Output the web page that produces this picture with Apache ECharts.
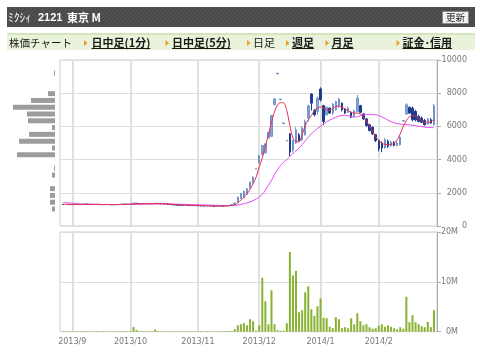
<!DOCTYPE html>
<html><head><meta charset="utf-8">
<script src="https://cdn.jsdelivr.net/npm/echarts@6/dist/echarts.min.js"></script>
<style>html,body{margin:0;padding:0;background:#fff}#c{width:480px;height:359px}</style>
</head><body><div id="c"></div>
<script>
// ---- data ----
const dates = [
"2013/8/28","2013/8/29","2013/8/30",
"2013/9/2","2013/9/3","2013/9/4","2013/9/5","2013/9/6","2013/9/9","2013/9/10","2013/9/11","2013/9/12","2013/9/13","2013/9/17","2013/9/18","2013/9/19","2013/9/20","2013/9/24","2013/9/25","2013/9/26","2013/9/27","2013/9/30",
"2013/10/1","2013/10/2","2013/10/3","2013/10/4","2013/10/7","2013/10/8","2013/10/9","2013/10/10","2013/10/11","2013/10/15","2013/10/16","2013/10/17","2013/10/18","2013/10/21","2013/10/22","2013/10/23","2013/10/24","2013/10/25","2013/10/28","2013/10/29","2013/10/30","2013/10/31",
"2013/11/1","2013/11/5","2013/11/6","2013/11/7","2013/11/8","2013/11/11","2013/11/12","2013/11/13","2013/11/14","2013/11/15","2013/11/18","2013/11/19","2013/11/20","2013/11/21","2013/11/22","2013/11/25","2013/11/26","2013/11/27","2013/11/28","2013/11/29",
"2013/12/2","2013/12/3","2013/12/4","2013/12/5","2013/12/6","2013/12/9","2013/12/10","2013/12/11","2013/12/12","2013/12/13","2013/12/16","2013/12/17","2013/12/18","2013/12/19","2013/12/20","2013/12/24","2013/12/25","2013/12/26","2013/12/27","2013/12/30",
"2014/1/6","2014/1/7","2014/1/8","2014/1/9","2014/1/10","2014/1/14","2014/1/15","2014/1/16","2014/1/17","2014/1/20","2014/1/21","2014/1/22","2014/1/23","2014/1/24","2014/1/27","2014/1/28","2014/1/29","2014/1/30","2014/1/31",
"2014/2/3","2014/2/4","2014/2/5","2014/2/6","2014/2/7","2014/2/10","2014/2/12","2014/2/13","2014/2/14","2014/2/17","2014/2/18","2014/2/19","2014/2/20","2014/2/21","2014/2/24","2014/2/25","2014/2/26","2014/2/27","2014/2/28"
];
// [open, close, low, high]
const ohlc = [
[1300,1290,1270,1320],[1290,1300,1280,1310],[1300,1280,1270,1310],
[1280,1300,1270,1310],[1300,1310,1290,1320],[1310,1290,1280,1320],[1290,1300,1280,1310],[1300,1320,1290,1330],[1320,1300,1290,1330],[1300,1290,1280,1310],[1290,1310,1280,1320],[1310,1300,1290,1320],[1300,1280,1270,1310],[1280,1290,1270,1300],[1290,1300,1280,1310],[1300,1290,1280,1310],[1290,1270,1260,1300],[1270,1290,1260,1300],[1290,1300,1280,1310],[1300,1320,1290,1330],[1320,1310,1300,1330],[1310,1300,1290,1320],
[1300,1330,1290,1340],[1340,1380,1330,1400],[1370,1350,1340,1380],[1350,1340,1330,1360],[1340,1330,1320,1350],[1330,1350,1320,1360],[1350,1340,1330,1360],[1340,1350,1330,1360],[1360,1380,1340,1390],[1370,1350,1340,1380],[1350,1330,1320,1360],[1330,1320,1300,1340],[1320,1300,1290,1330],[1300,1290,1280,1310],[1290,1270,1260,1300],[1270,1260,1240,1280],[1260,1250,1240,1270],[1250,1240,1230,1260],[1240,1250,1230,1260],[1250,1230,1220,1260],[1230,1220,1210,1240],[1220,1230,1210,1240],
[1230,1220,1200,1240],[1220,1210,1200,1230],[1210,1200,1190,1220],[1200,1210,1190,1220],[1210,1200,1190,1220],[1200,1190,1180,1210],[1190,1200,1180,1210],[1200,1210,1190,1220],[1210,1200,1190,1220],[1200,1220,1190,1230],[1220,1240,1210,1250],[1240,1290,1230,1300],[1300,1380,1290,1400],[1420,1740,1400,1770],[1650,1960,1630,1990],[1700,2100,1670,2130],[1900,2250,1870,2270],[2300,2650,2270,2670],[2600,2950,2570,2970],[3430,3470,3430,3470],
[3800,4250,3780,4280],[4300,4850,4280,4880],[4400,4950,4380,4980],[5300,5650,5280,5680],[5400,6650,5380,6690],[7300,7650,7290,7690],[9160,9200,9160,9200],[7600,7640,7600,7640],[6170,6210,6170,6210],[5120,5160,5120,5160],[5550,4450,4200,5600],[4550,5150,4450,5200],[5000,5800,4950,5950],[5500,5150,5050,5600],[5200,5900,5100,6000],[5500,6300,5450,6400],[6500,7250,6300,7300],[7950,7400,6950,8000],[6950,6700,6600,7050],[6900,7700,6700,7800],
[8250,7600,7500,8350],[7250,6300,6100,7300],[6700,7150,6650,7200],[7100,6800,6750,7150],[6800,7350,6700,7400],[7000,7500,6950,7550],[7200,7650,7100,7700],[7400,7000,6900,7450],[7050,6800,6750,7100],[6850,7100,6800,7200],[6850,6550,6500,6900],[6600,6950,6550,7000],[6900,7700,6850,7900],[7250,6850,6800,7300],[6750,6450,6400,6800],[6450,6050,5980,6500],[6100,5750,5700,6150],[5950,5550,5480,6000],[5500,5150,5050,5550],
[5150,4650,4500,5200],[5000,4700,4450,5100],[4700,5200,4650,5300],[5100,4800,4700,5200],[4850,5050,4750,5150],[5050,4850,4800,5100],[4850,5000,4800,5100],[4900,5350,4850,5450],[6320,6360,6320,6360],[6750,7300,6700,7400],[7150,6800,6750,7200],[7100,6400,6300,7200],[6900,6400,6300,7000],[6600,6300,6250,6700],[6500,6250,6200,6600],[6350,6100,6050,6450],[6150,6450,6100,6500],[6400,6200,6150,6500],[6100,7250,6050,7350]
];
// volume, millions of shares
const volume = [
0.12,0.1,0.1,
0.1,0.12,0.08,0.1,0.1,0.12,0.1,0.08,0.1,0.1,0.12,0.1,0.08,0.1,0.1,0.1,0.12,0.1,0.1,
0.15,0.93,0.35,0.12,0.1,0.1,0.1,0.12,0.45,0.15,0.1,0.1,0.08,0.1,0.1,0.12,0.1,0.08,0.1,0.1,0.1,0.08,
0.1,0.1,0.08,0.1,0.1,0.1,0.08,0.1,0.1,0.12,0.15,0.15,0.53,1.3,1.5,1.7,1.3,2.5,2.1,0.2,
1.3,10.8,6.1,1.5,8.3,1.5,0.3,0.2,0.2,1.7,16,11.3,12.2,3.9,4.3,7.9,9.1,4.5,3.2,5.1,
6.7,2.8,2.7,1.0,0.7,2.9,2.5,0.7,0.9,0.7,2.7,1.5,3.7,2.1,1.3,1.5,0.9,0.6,0.7,
1.2,1.5,1.0,1.3,1.0,0.7,0.5,0.9,0.6,7.0,1.9,3.3,1.9,1.5,1.1,0.9,2.0,0.9,4.3
];
const ma5 = [
1310,1305,1300,
1295,1295,1296,1300,1304,1304,1302,1304,1304,1296,1294,1296,1292,1286,1288,1290,1294,1298,1304,
1312,1328,1338,1346,1346,1350,1342,1342,1350,1354,1350,1346,1336,1318,1302,1288,1274,1262,1254,1246,1238,1234,
1230,1222,1214,1214,1208,1202,1200,1202,1200,1204,1214,1235,1275,1390,1550,1740,1940,2200,2550,2950,
3550,4100,4800,5500,6250,6900,7300,7430,7420,6950,6050,5300,5080,5080,5500,6050,6400,6650,6950,7100,
7180,7100,7000,6980,7080,7200,7230,7150,7050,6950,6850,6800,6800,6750,6550,6300,6050,5700,5400,
5150,4980,4920,4900,4920,4980,5200,5550,6000,6350,6580,6650,6600,6480,6350,6250,6230,6300,6420
];
const ma25 = [
1430,1410,1390,
1370,1350,1335,1325,1318,1312,1308,1305,1303,1300,1298,1297,1296,1295,1295,1295,1296,1297,1298,
1300,1304,1307,1310,1312,1315,1318,1320,1323,1325,1326,1326,1325,1323,1320,1316,1312,1308,1303,1298,1292,1287,
1281,1275,1268,1262,1256,1250,1245,1240,1236,1234,1234,1236,1245,1265,1300,1340,1390,1450,1530,1620,
1750,1900,2150,2450,2750,3100,3400,3650,3850,4000,4200,4380,4520,4700,4900,5130,5350,5550,5720,5880,
6000,6150,6280,6380,6480,6550,6620,6660,6670,6640,6600,6560,6580,6650,6700,6720,6720,6720,6700,
6650,6570,6480,6380,6290,6220,6170,6140,6120,6110,6090,6070,6040,6010,5980,5960,5940,5930,5920
];
// volume-by-price profile (bins from low to high price), relative volume
const profilePrices = [1000,1400,1800,2200,2600,3000,3400,3800,4200,4600,5000,5400,5800,6200,6600,7000,7400,7800,8200,8600,9000];
const profileVolume = [3,5,5,5,0,3,1,0,38,3,36,26,3,27,28,42,24,7,0,0,1];
const priceTicks = {min:0, max:10000, step:2000};
const volumeTicks = {min:0, max:20, step:10};

// ---- build ----
const cats = [''].concat(dates, ['']);
const candleData = ohlc.map((d, i) => [i + 1, d[0], d[1], d[2], d[3]]);
const pad = a => ['-'].concat(a, ['-']);
const month = s => s ? s.split('/')[1] : null;
function isMonthStart(idx) {
  if (idx < 2 || idx >= cats.length - 1) return false;
  return month(cats[idx]) !== month(cats[idx - 1]);
}
const JP = '"Noto Sans CJK JP", sans-serif';
const NUM = '"DejaVu Sans", sans-serif';

const mctx = document.createElement('canvas').getContext('2d');
function tw(text, font) { mctx.font = font; return mctx.measureText(text).width; }

// hatch pattern for the title bar
const hatch = document.createElement('canvas');
hatch.width = 4; hatch.height = 4;
(function () {
  const g = hatch.getContext('2d');
  g.fillStyle = '#4a4a4a'; g.fillRect(0, 0, 4, 4);
  g.fillStyle = '#575757';
  g.fillRect(3, 0, 1, 1); g.fillRect(2, 1, 1, 1); g.fillRect(1, 2, 1, 1); g.fillRect(0, 3, 1, 1);
})();

const navItems = [
  {text: '株価チャート', x: 9, font: '10.5px ' + JP, link: false},
  {text: '日中足(1分)', x: 91.5, tri: 84, font: 'bold 11px ' + JP, link: true},
  {text: '日中足(5分)', x: 172, tri: 165.5, font: 'bold 11px ' + JP, link: true},
  {text: '日足', x: 253, tri: 247, font: '11px ' + JP, link: false},
  {text: '週足', x: 292, tri: 286, font: 'bold 11px ' + JP, link: true},
  {text: '月足', x: 331.5, tri: 325.5, font: 'bold 11px ' + JP, link: true},
  {text: '証金･信用', x: 402.5, tri: 396.5, font: 'bold 11px ' + JP, link: true}
];
const graphics = [
  {type: 'rect', shape: {x: 7, y: 7, width: 468, height: 20}, style: {fill: {image: hatch, repeat: 'repeat'}}},
  {type: 'text', x: 8, y: 17.5, style: {text: 'ﾐｸｼｨ', fill: '#fff', font: '11.5px ' + JP, verticalAlign: 'middle'}},
  {type: 'text', x: 38, y: 17.5, style: {text: '2121', fill: '#fff', font: 'bold 11px "Liberation Sans Narrow", "Liberation Sans", sans-serif', verticalAlign: 'middle'}},
  {type: 'text', x: 67, y: 17.5, style: {text: '東京 M', fill: '#fff', font: 'bold 11px ' + JP, verticalAlign: 'middle'}},
  {type: 'rect', shape: {x: 442.5, y: 11.5, width: 26, height: 12}, style: {fill: '#f2f2f2', stroke: '#888', lineWidth: 1}},
  {type: 'text', x: 455.5, y: 17.5, style: {text: '更新', fill: '#222', font: '9.5px ' + JP, align: 'center', verticalAlign: 'middle'}},
  {type: 'rect', shape: {x: 7, y: 33, width: 468, height: 17}, style: {fill: '#e9f3db'}},
  {type: 'rect', shape: {x: 7, y: 33, width: 468, height: 2}, style: {fill: '#d3e6bb'}}
];
navItems.forEach(n => {
  graphics.push({type: 'text', x: n.x, y: 43, style: {text: n.text, fill: '#1a1a1a', font: n.font, verticalAlign: 'middle'}});
  if (n.tri) graphics.push({type: 'polygon', shape: {points: [[n.tri, 40], [n.tri, 46], [n.tri + 3.5, 43]]}, style: {fill: '#f0a020'}});
  if (n.link) {
    const w = tw(n.text, n.font);
    graphics.push({type: 'line', shape: {x1: n.x, y1: 48.5, x2: n.x + w, y2: 48.5}, style: {stroke: '#1a1a1a', lineWidth: 1}});
  }
});

const vSplit = {show: true, interval: (i) => isMonthStart(i), lineStyle: {color: '#e0e0e0', width: 2}};
const option = {
  animation: false,
  backgroundColor: '#fff',
  textStyle: {fontFamily: NUM},
  graphic: graphics,
  grid: [
    {left: 60, right: 43, top: 60, height: 166, show: true, borderColor: '#cfcfcf', borderWidth: 1},
    {left: 60, right: 43, top: 232, height: 99.7, show: true, borderColor: '#cfcfcf', borderWidth: 1},
    {left: 10, width: 45, top: 69.9, height: 142.5}
  ],
  xAxis: [
    {gridIndex: 0, type: 'category', data: cats, boundaryGap: false, axisLine: {show: false}, axisTick: {show: false}, axisLabel: {show: false}, splitLine: vSplit},
    {gridIndex: 1, type: 'category', data: cats, boundaryGap: false, axisLine: {show: false}, axisTick: {show: false},
     axisLabel: {show: true, interval: (i) => isMonthStart(i), formatter: v => v.split('/').slice(0, 2).join('/'), color: '#777', fontSize: 8, fontFamily: NUM, margin: 6},
     splitLine: vSplit},
    {gridIndex: 2, type: 'value', inverse: true, min: 0, max: 45, show: false}
  ],
  yAxis: [
    {gridIndex: 0, type: 'value', position: 'right', min: priceTicks.min, max: priceTicks.max, interval: priceTicks.step,
     axisLine: {show: true, lineStyle: {color: '#aaa'}}, axisTick: {show: true, length: 4, lineStyle: {color: '#aaa'}},
     axisLabel: {align: 'right', margin: 30, color: '#777', fontSize: 8, fontFamily: NUM, formatter: v => String(v)},
     splitLine: {show: true, lineStyle: {color: '#dedede', width: 1}}},
    {gridIndex: 1, type: 'value', position: 'right', min: volumeTicks.min, max: volumeTicks.max, interval: volumeTicks.step,
     axisLine: {show: true, lineStyle: {color: '#aaa'}}, axisTick: {show: true, length: 4, lineStyle: {color: '#aaa'}},
     axisLabel: {align: 'right', margin: 21, color: '#777', fontSize: 8, fontFamily: NUM, formatter: v => v + 'M'},
     splitLine: {show: true, lineStyle: {color: '#dedede', width: 1}}},
    {gridIndex: 2, type: 'category', data: profilePrices, show: false}
  ],
  series: [
    {type: 'bar', xAxisIndex: 2, yAxisIndex: 2, data: profileVolume, barWidth: 5, itemStyle: {color: '#9c9c9c'}},
    {type: 'line', xAxisIndex: 0, yAxisIndex: 0, data: pad(ma25), symbol: 'none', smooth: 0.3, lineStyle: {color: '#e24cf2', width: 1}},
    {type: 'candlestick', xAxisIndex: 0, yAxisIndex: 0, data: candleData, encode: {x: 0, y: [1, 2, 3, 4]}, barWidth: 2,
     itemStyle: {color: '#8aa5d8', borderColor: '#7393cc', color0: '#1d3c8e', borderColor0: '#1d3c8e', borderWidth: 1}},
    {type: 'line', xAxisIndex: 0, yAxisIndex: 0, data: pad(ma5), symbol: 'none', smooth: 0.3, lineStyle: {color: '#e8304c', width: 1}},
    {type: 'bar', xAxisIndex: 1, yAxisIndex: 1, data: pad(volume), barWidth: 2, itemStyle: {color: '#88b232'}}
  ]
};
const chart = echarts.init(document.getElementById('c'));
chart.setOption(option);
</script>
</body></html>
